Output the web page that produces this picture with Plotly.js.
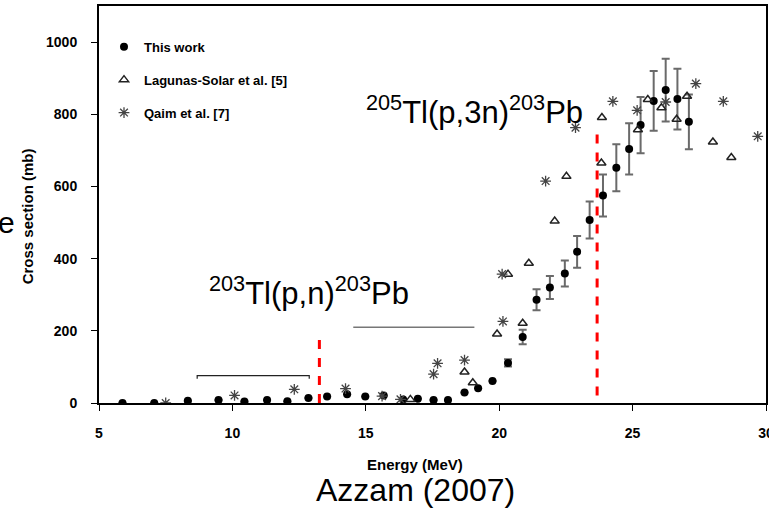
<!DOCTYPE html>
<html>
<head>
<meta charset="utf-8">
<script src="https://cdn.plot.ly/plotly-3.0.1.min.js"></script>
<style>html,body{margin:0;padding:0;background:#fff;}#chart{width:769px;height:509px;}</style>
</head>
<body>
<div id="chart"></div>
<script>
// This work (filled circles, with error bars)
const thisWorkE = [5.88, 7.07, 8.33, 9.48, 10.45, 11.30, 12.06, 12.85, 13.55, 14.30, 14.98, 15.67, 16.40, 16.95, 17.54, 18.08, 18.70, 19.21, 19.75, 20.33, 20.88, 21.40, 21.90, 22.46, 22.92, 23.39, 23.89, 24.39, 24.87, 25.30, 25.79, 26.24, 26.68, 27.11];
const thisWorkXS = [0, 0, 6, 8, 4, 8, 5, 14, 18, 24, 18, 21, 10, 12, 8, 8, 29, 41, 61, 111, 183, 286, 320, 359, 419, 507, 575, 652, 704, 770, 837, 867, 842, 779];
const thisWorkErr = [0, 0, 0, 0, 0, 0, 0, 0, 0, 0, 0, 0, 0, 0, 0, 0, 0, 0, 0, 10, 20, 29, 32, 36, 44, 51, 58, 65, 71, 78, 83, 87, 84, 76];

// Lagunas-Solar et al. [5] (open triangles)
const lagunasE = [16.67, 18.70, 19.01, 19.92, 20.33, 20.88, 21.11, 22.08, 22.52, 23.83, 23.85, 25.20, 25.57, 26.08, 26.65, 27.04, 28.01, 28.70];
const lagunasXS = [10, 86, 56, 191, 357, 221, 387, 504, 628, 665, 791, 757, 841, 818, 786, 850, 723, 680];

// Qaim et al. [7] (asterisks)
const qaimE = [7.50, 10.08, 12.32, 14.24, 15.61, 16.30, 17.54, 17.69, 18.70, 20.11, 20.14, 21.74, 22.86, 24.26, 25.17, 26.24, 27.37, 28.40, 29.69];
const qaimXS = [0, 21, 38, 40, 19, 10, 80, 110, 119, 357, 226, 615, 763, 836, 811, 834, 885, 836, 739];

// Axis ticks
const xTicks = [5, 10, 15, 20, 25, 30];
const yTicks = [0, 200, 400, 600, 800, 1000];

const seriesNames = ['This work', 'Lagunas-Solar et al. [5]', 'Qaim et al. [7]'];

const baseFont = 'Liberation Sans, Arial, sans-serif';

const traces = [
  {
    x: thisWorkE, y: thisWorkXS, name: seriesNames[0], type: 'scatter', mode: 'markers',
    legendgroup: 'a',
    marker: {symbol: 'circle', size: 8, color: '#000'},
    error_y: {type: 'data', array: thisWorkErr, visible: true, color: '#6a6a6a', thickness: 2, width: 4}
  },
  {
    x: lagunasE, y: lagunasXS, name: seriesNames[1], type: 'scatter', mode: 'markers',
    legendgroup: 'b',
    marker: {symbol: 'triangle-up-open', size: 8, color: '#222', line: {width: 1.5, color: '#222'}}
  },
  {
    x: qaimE, y: qaimXS, name: seriesNames[2], type: 'scatter', mode: 'markers',
    legendgroup: 'c',
    marker: {symbol: 'asterisk-open', size: 9, color: '#444', line: {width: 1.3, color: '#444'}}
  }
];

const layout = {
  width: 769, height: 509,
  margin: {l: 99, r: 3, t: 6, b: 106},
  paper_bgcolor: '#fff', plot_bgcolor: '#fff',
  showlegend: true,
  legend: {
    x: 0.0075, y: 0.935, xanchor: 'left', yanchor: 'top',
    bgcolor: 'rgba(0,0,0,0)', tracegroupgap: 13,
    font: {family: baseFont, size: 13, color: '#000', weight: 'bold'}
  },
  xaxis: {
    range: [5, 30], tickvals: xTicks, ticktext: xTicks.map(String),
    showgrid: false, zeroline: false, showline: true, linecolor: '#000', linewidth: 2, mirror: true,
    ticks: 'outside', ticklen: 6, tickwidth: 1, tickcolor: '#000', ticklabelstandoff: 10,
    ticklabeloverflow: 'allow',
    tickfont: {family: baseFont, size: 14, color: '#000', weight: 'bold'}
  },
  yaxis: {
    range: [0, 1100], tickvals: yTicks, ticktext: yTicks.map(String),
    showgrid: false, zeroline: false, showline: true, linecolor: '#000', linewidth: 2, mirror: true,
    ticks: 'outside', ticklen: 6, tickwidth: 1, tickcolor: '#000', ticklabelstandoff: 11,
    ticklabeloverflow: 'allow',
    tickfont: {family: baseFont, size: 14, color: '#000', weight: 'bold'}
  },
  shapes: [
    {type: 'line', xref: 'x', yref: 'y', x0: 13.26, x1: 13.26, y0: 0, y1: 183, line: {color: '#ff0000', width: 3, dash: 'dash'}},
    {type: 'line', xref: 'x', yref: 'y', x0: 23.67, x1: 23.67, y0: 21, y1: 765, line: {color: '#ff0000', width: 3, dash: 'dash'}},
    {type: 'path', xref: 'x', yref: 'y', path: 'M 8.68 67 L 8.68 76 L 12.88 76 L 12.88 67', line: {color: '#222', width: 1.2}},
    {type: 'line', xref: 'x', yref: 'y', x0: 14.53, x1: 19.07, y0: 210, y1: 210, line: {color: '#777', width: 1.5}}
  ],
  annotations: [
    {text: '<sup>203</sup>Tl(p,n)<sup>203</sup>Pb', xref: 'x', yref: 'y', x: 9.05, y: 310, xanchor: 'left', yanchor: 'middle', showarrow: false,
     font: {family: baseFont, size: 31, color: '#000'}},
    {text: '<sup>205</sup>Tl(p,3n)<sup>203</sup>Pb', xref: 'x', yref: 'y', x: 14.94, y: 812, xanchor: 'left', yanchor: 'middle', showarrow: false,
     font: {family: baseFont, size: 31, color: '#000'}},
    {text: 'Cross section (mb)', xref: 'paper', yref: 'paper', x: -0.108, y: 0.47, xanchor: 'center', yanchor: 'middle', textangle: -90, showarrow: false,
     font: {family: baseFont, size: 15, color: '#000', weight: 'bold'}},
    {text: 'e', xref: 'paper', yref: 'paper', x: -0.138, y: 0.455, xanchor: 'center', yanchor: 'middle', showarrow: false,
     font: {family: baseFont, size: 30, color: '#000'}},
    {text: 'Energy (MeV)', xref: 'paper', yref: 'paper', x: 0.474, y: -0.155, xanchor: 'center', yanchor: 'middle', showarrow: false,
     font: {family: baseFont, size: 15, color: '#000', weight: 'bold'}},
    {text: 'Azzam (2007)', xref: 'paper', yref: 'paper', x: 0.474, y: -0.219, xanchor: 'center', yanchor: 'middle', showarrow: false,
     font: {family: baseFont, size: 32, color: '#000'}}
  ]
};

Plotly.newPlot('chart', traces, layout, {displayModeBar: false, staticPlot: true});
</script>
</body>
</html>
